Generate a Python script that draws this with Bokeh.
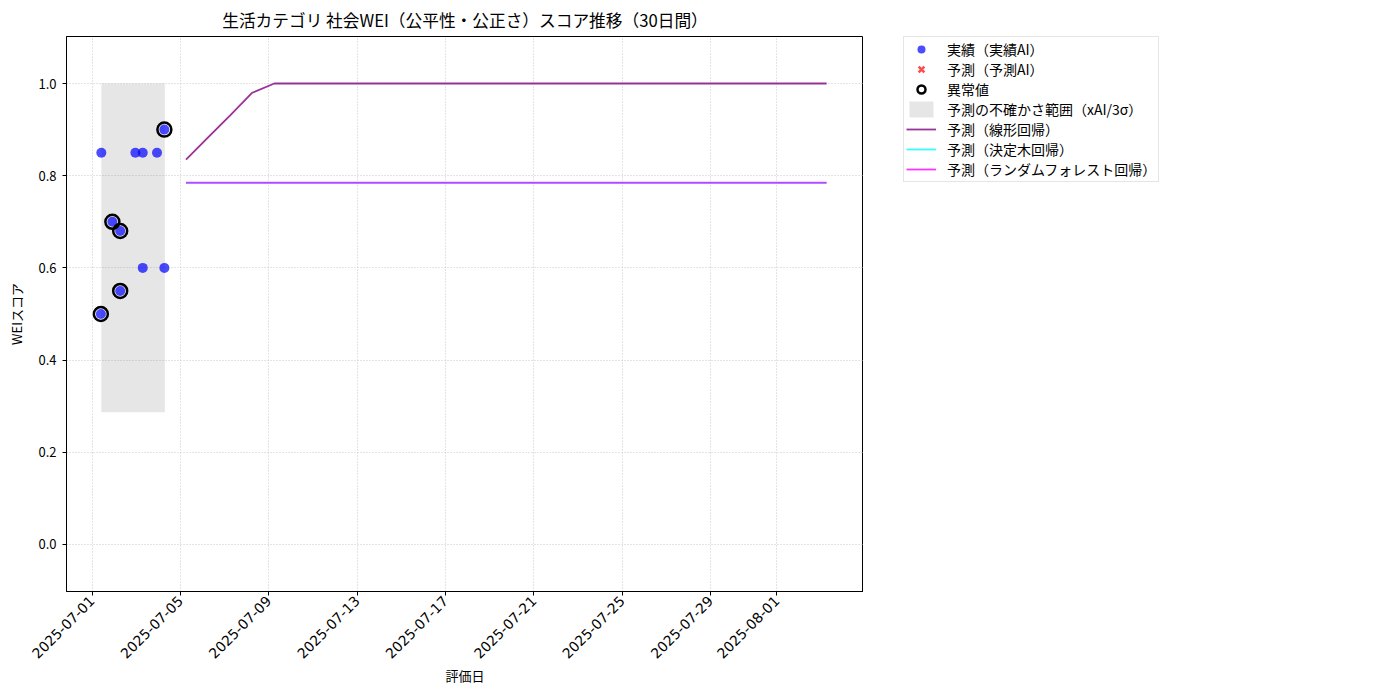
import math
import pandas as pd
from bokeh.plotting import figure
from bokeh.layouts import row
from bokeh.models import (Range1d, FixedTicker, DatetimeTickFormatter, Legend, LegendItem,
                          ColumnDataSource, NumeralTickFormatter)
from bokeh.embed import file_html
from bokeh.resources import INLINE

FONT = "Noto Sans CJK JP"

# ---- data ----
actual_times = ["2025-07-01 09:30", "2025-07-01 10:00", "2025-07-01 22:00", "2025-07-02 06:30",
                "2025-07-02 06:30", "2025-07-02 23:00", "2025-07-03 07:00", "2025-07-03 07:00",
                "2025-07-03 22:30", "2025-07-04 06:30", "2025-07-04 06:30"]
actual_values = [0.50, 0.85, 0.70, 0.68, 0.55, 0.85, 0.85, 0.60, 0.85, 0.90, 0.60]

outlier_times = ["2025-07-01 09:30", "2025-07-01 22:00", "2025-07-02 06:30",
                 "2025-07-02 06:30", "2025-07-04 06:30"]
outlier_values = [0.50, 0.70, 0.68, 0.55, 0.90]

band_times = ["2025-07-01 10:00", "2025-07-04 07:00"]
band_lower = [0.287, 0.287]
band_upper = [1.0, 1.0]

pred_start = "2025-07-05 06:00"
linear_pred = [0.835, 0.883, 0.931, 0.980, 1.0, 1.0, 1.0, 1.0, 1.0, 1.0,
               1.0, 1.0, 1.0, 1.0, 1.0, 1.0, 1.0, 1.0, 1.0, 1.0,
               1.0, 1.0, 1.0, 1.0, 1.0, 1.0, 1.0, 1.0, 1.0, 1.0]
tree_pred = [0.784] * 30
forest_pred = [0.785] * 30

x_tick_labels = ["2025-07-01", "2025-07-05", "2025-07-09", "2025-07-13", "2025-07-17",
                 "2025-07-21", "2025-07-25", "2025-07-29", "2025-08-01"]
y_ticks = [0.0, 0.2, 0.4, 0.6, 0.8, 1.0]

legend_labels = ["実績（実績AI）", "予測（予測AI）", "異常値", "予測の不確かさ範囲（xAI/3σ）",
                 "予測（線形回帰）", "予測（決定木回帰）", "予測（ランダムフォレスト回帰）"]

# ---- styles ----
ACT = dict(size=10, fill_color="blue", fill_alpha=0.7, line_color=None)
PRED = dict(marker="x", size=13, line_color="red", line_alpha=0.7, line_width=2.6)
OUT = dict(size=14, fill_color=None, line_color="black", line_width=2.5)
BAND = dict(fill_color="grey", fill_alpha=0.2)
LIN = dict(line_color="purple", line_alpha=0.8, line_width=1.8)
TREE = dict(line_color="cyan", line_alpha=0.8, line_width=1.8)
FOREST = dict(line_color="magenta", line_alpha=0.8, line_width=1.8)

# ---- main chart ----
pred_dates = pd.date_range(pred_start, periods=len(linear_pred), freq="D")

H = 692
p = figure(width=863, height=H, x_axis_type="datetime", output_backend="svg",
           toolbar_location=None,
           x_range=Range1d(pd.Timestamp("2025-06-29 20:10"), pd.Timestamp("2025-08-04 22:05")),
           y_range=Range1d(-0.102, 1.102),
           min_border_left=66, min_border_right=0, min_border_top=36, min_border_bottom=101)

p.title.text = "生活カテゴリ 社会WEI（公平性・公正さ）スコア推移（30日間）"
p.title.align = "center"
p.title.text_font = FONT
p.title.text_font_size = "16.7px"
p.title.text_font_style = "normal"
p.title.text_color = "black"

p.outline_line_color = "black"
p.outline_line_width = 1
p.background_fill_color = "white"
p.border_fill_color = "white"

for g in (p.xgrid, p.ygrid):
    g.grid_line_color = "#c4c4c4"
    g.grid_line_dash = "1 2"
    g.grid_line_alpha = 0.9

p.xaxis.ticker = FixedTicker(ticks=[pd.Timestamp(t).value // 10**6 for t in x_tick_labels])
p.xaxis.formatter = DatetimeTickFormatter(days="%Y-%m-%d", months="%Y-%m-%d", hours="%Y-%m-%d")
p.xaxis.major_label_orientation = math.pi / 4
p.yaxis.ticker = FixedTicker(ticks=y_ticks)
p.yaxis.formatter = NumeralTickFormatter(format="0.0")

for ax in (p.xaxis, p.yaxis):
    ax.axis_line_color = "black"
    ax.major_tick_line_color = "black"
    ax.major_tick_out = 4
    ax.major_tick_in = 0
    ax.minor_tick_line_color = None
    ax.major_label_text_font = FONT
    ax.major_label_text_font_size = "13px"
    ax.major_label_text_color = "black"
    ax.axis_label_text_font = FONT
    ax.axis_label_text_font_size = "13px"
    ax.axis_label_text_font_style = "normal"
    ax.axis_label_text_color = "black"

p.xaxis.major_label_text_font = "DejaVu Sans"
p.xaxis.major_label_text_font_size = "14px"
p.xaxis.axis_label = "評価日"
p.yaxis.axis_label = "WEIスコア"
p.xaxis.major_label_standoff = 3
p.yaxis.major_label_standoff = 6
p.yaxis.axis_label_standoff = 9
p.xaxis.axis_label_standoff = 0

band_src = ColumnDataSource(dict(x=pd.to_datetime(band_times), y1=band_lower, y2=band_upper))
p.varea(x="x", y1="y1", y2="y2", source=band_src, **BAND)

p.line(pred_dates, linear_pred, **LIN)
p.line(pred_dates, tree_pred, **TREE)
p.line(pred_dates, forest_pred, **FOREST)

act_src = ColumnDataSource(dict(x=pd.to_datetime(actual_times), y=actual_values))
p.scatter(x="x", y="y", source=act_src, **ACT)

out_src = ColumnDataSource(dict(x=pd.to_datetime(outlier_times), y=outlier_values))
p.scatter(x="x", y="y", source=out_src, **OUT)

# ---- legend panel (outside the plot, to the right) ----
q = figure(width=330, height=H, output_backend="svg", toolbar_location=None,
           x_range=Range1d(0, 1), y_range=Range1d(0, 1),
           x_axis_location=None, y_axis_location=None,
           min_border_left=40, min_border_right=0, min_border_top=36, min_border_bottom=101)
q.outline_line_color = None
q.xgrid.visible = False
q.ygrid.visible = False

nan = float("nan")
k_act = q.scatter([nan], [nan], **ACT)
k_pred = q.scatter([nan], [nan], **PRED)  # the predicted-AI series has no visible points
k_out = q.scatter([nan], [nan], **OUT)
k_band = q.varea([nan, nan], [nan, nan], [nan, nan], **BAND)
k_lin = q.line([nan, nan], [nan, nan], **LIN)
k_tree = q.line([nan, nan], [nan, nan], **TREE)
k_forest = q.line([nan, nan], [nan, nan], **FOREST)
keys = [k_act, k_pred, k_out, k_band, k_lin, k_tree, k_forest]

legend = Legend(items=[LegendItem(label=l, renderers=[r]) for l, r in zip(legend_labels, keys)],
                location="top_left")
legend.margin = 0
legend.padding = 2
legend.spacing = 0
legend.glyph_width = 30
legend.glyph_height = 20
legend.label_height = 20
legend.label_standoff = 11
legend.label_text_font = FONT
legend.label_text_font_size = "14px"
legend.label_text_color = "black"
legend.border_line_color = "#cccccc"
legend.border_line_width = 1
legend.background_fill_color = "white"
legend.background_fill_alpha = 0.9
q.add_layout(legend, "center")

layout = row(p, q, spacing=0)
open("out.html", "w").write(file_html(layout, INLINE))
